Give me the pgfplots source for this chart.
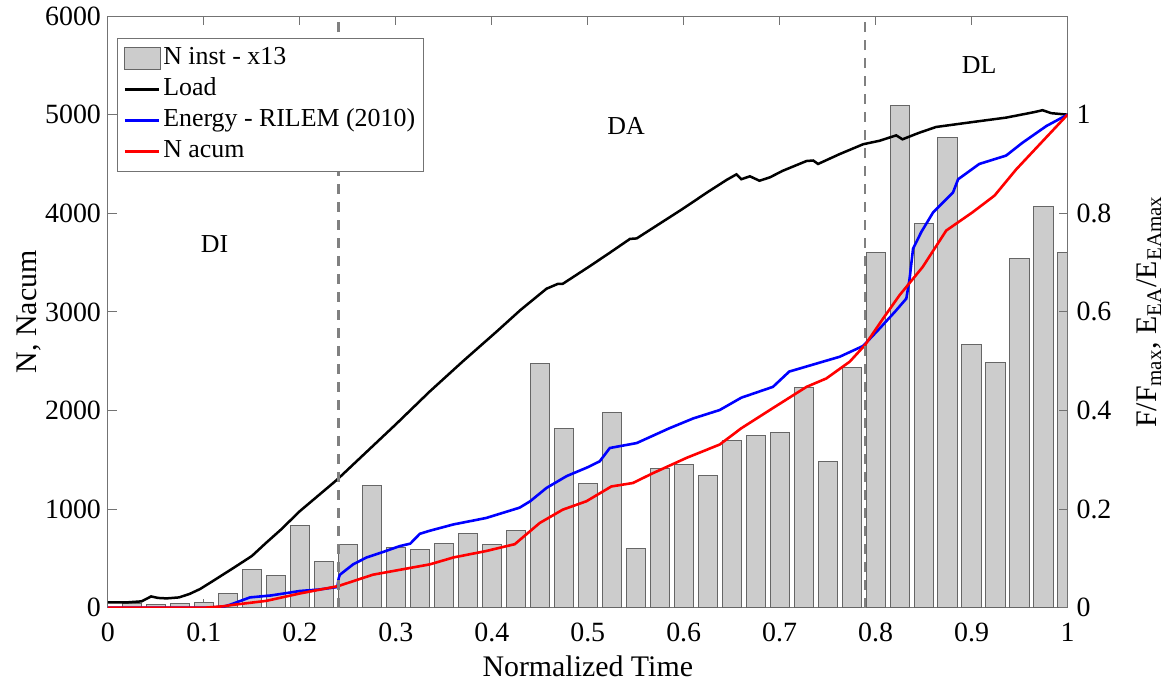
\documentclass[border=0pt]{standalone}
\usepackage{fontspec}
\setmainfont{Liberation Serif}
\usepackage{pgfplots}
\usepackage{pgfplotstable}
\pgfplotsset{compat=1.18}

\pgfplotstableread{
x y
0.025 45
0.050 35
0.075 45
0.100 55
0.125 145
0.150 392
0.175 324
0.200 831
0.225 470
0.250 645
0.275 1236
0.300 611
0.325 595
0.350 652
0.375 753
0.400 638
0.425 780
0.450 2480
0.475 1821
0.500 1264
0.525 1976
0.550 598
0.575 1416
0.600 1456
0.625 1341
0.650 1692
0.675 1745
0.700 1780
0.725 2230
0.750 1480
0.775 2440
0.800 3600
0.825 5090
0.850 3895
0.875 4765
0.900 2670
0.925 2490
0.950 3540
0.975 4070
1.000 3600
}\ninst

\pgfplotstableread{
x y
0 0.011
0.02 0.011
0.035 0.013
0.045 0.023
0.052 0.020
0.061 0.019
0.074 0.021
0.085 0.028
0.096 0.038
0.110 0.055
0.131 0.081
0.150 0.105
0.165 0.132
0.180 0.158
0.200 0.196
0.2347 0.253
0.240 0.262
0.270 0.317
0.300 0.372
0.335 0.438
0.370 0.500
0.405 0.560
0.430 0.604
0.457 0.647
0.469 0.657
0.474 0.657
0.500 0.690
0.520 0.716
0.544 0.748
0.551 0.749
0.575 0.779
0.599 0.809
0.625 0.843
0.645 0.868
0.655 0.879
0.660 0.869
0.669 0.875
0.679 0.866
0.690 0.873
0.703 0.886
0.728 0.906
0.735 0.907
0.740 0.900
0.7625 0.920
0.787 0.940
0.804 0.947
0.8215 0.958
0.828 0.950
0.845 0.963
0.863 0.975
0.901 0.985
0.936 0.994
0.965 1.005
0.974 1.009
0.983 1.003
1.000 1.000
}\load

\pgfplotstableread{
x y
0 0
0.100 0
0.120 0.002
0.127 0.006
0.148 0.021
0.170 0.025
0.200 0.034
0.220 0.037
0.239 0.042
0.2405 0.060
0.2417 0.067
0.2555 0.088
0.2694 0.102
0.285 0.112
0.304 0.125
0.315 0.130
0.325 0.150
0.335 0.156
0.360 0.169
0.394 0.182
0.429 0.203
0.440 0.216
0.457 0.243
0.478 0.267
0.500 0.285
0.5125 0.297
0.523 0.324
0.551 0.334
0.585 0.364
0.610 0.384
0.6375 0.401
0.660 0.426
0.693 0.448
0.710 0.479
0.745 0.499
0.7625 0.509
0.787 0.531
0.804 0.566
0.820 0.600
0.832 0.627
0.8354 0.667
0.839 0.728
0.8476 0.762
0.860 0.802
0.8806 0.842
0.886 0.869
0.908 0.900
0.936 0.917
0.953 0.943
0.978 0.977
1.000 1.000
}\energy

\pgfplotstableread{
x y
0 0
0.100 0
0.120 0.003
0.1306 0.006
0.165 0.014
0.200 0.029
0.240 0.044
0.276 0.067
0.3354 0.088
0.360 0.102
0.394 0.115
0.424 0.129
0.450 0.172
0.474 0.199
0.4986 0.216
0.5246 0.246
0.547 0.253
0.568 0.273
0.603 0.304
0.6375 0.331
0.660 0.364
0.693 0.405
0.728 0.448
0.7486 0.465
0.773 0.499
0.789 0.533
0.8076 0.586
0.825 0.634
0.849 0.691
0.8736 0.765
0.901 0.802
0.924 0.836
0.9465 0.889
1.000 1.000
}\nacum

\begin{document}
\begin{tikzpicture}
\pgfplotsset{
  common/.style={
    scale only axis, width=480bp, height=296bp,
    xmin=0, xmax=1,
    tick align=inside,
    major tick length=4.5bp,
    axis line style={black!55, line width=0.5bp},
    every tick/.style={black!55, line width=0.5bp},
    tick label style={font=\fontsize{14}{16}\selectfont},
    label style={font=\fontsize{15}{18}\selectfont},
    /pgf/number format/assume math mode=true,
    scaled ticks=false,
  }
}
\begin{axis}[common,
  ymin=0, ymax=6000,
  xtick={0,0.1,0.2,0.3,0.4,0.5,0.6,0.7,0.8,0.9,1},
  xticklabels={0,0.1,0.2,0.3,0.4,0.5,0.6,0.7,0.8,0.9,1},
  ytick={0,1000,2000,3000,4000,5000,6000},
  yticklabels={0,1000,2000,3000,4000,5000,6000},
  xtick pos=both, ytick pos=left,
  xticklabel style={yshift=-4bp},
  ylabel style={yshift=-5bp},
  xlabel={Normalized Time}, ylabel={N, Nacum},
]
\addplot[ybar, bar width=0.02, fill=black!20, draw=black!60, line width=0.5bp] table[x=x,y=y] {\ninst};
\coordinate (sw) at (rel axis cs:0,0);
\coordinate (ne) at (rel axis cs:1,1);
\end{axis}
\begin{axis}[common,
  ymin=0, ymax=1.2,
  axis y line*=right, axis x line=none,
  ytick={0,0.2,0.4,0.6,0.8,1},
  yticklabels={0,0.2,0.4,0.6,0.8,1},
  yticklabel style={xshift=1bp},
  ylabel style={yshift=-6bp},
  ylabel={F/F\textsubscript{max}, E\textsubscript{EA}/E\textsubscript{EAmax}},
  legend cell align=left,
  legend style={at={(0.0094,0.963)}, anchor=north west, draw=black!55, line width=0.5bp,
    font=\fontsize{13}{15}\selectfont, row sep=1.5bp,
    nodes={inner sep=1bp, text height=9bp, text depth=3bp},
    inner xsep=3bp, inner ysep=3bp},
]
\addlegendimage{legend image code/.code={\draw[fill=black!20, draw=black!60, line width=0.5bp] (0bp,-5.5bp) rectangle (18bp,5.5bp);}}
\addlegendentry{N inst - x13}
\addplot[black, line width=1.25bp] table[x=x,y=y] {\load};
\addlegendentry{Load}
\addplot[blue, line width=1.3bp] table[x=x,y=y] {\energy};
\addlegendentry{Energy - RILEM (2010)}
\addplot[red, line width=1.3bp] table[x=x,y=y] {\nacum};
\addlegendentry{N acum}
\addplot[black!50, line width=1.25bp, dash pattern=on 5bp off 4bp, forget plot] coordinates {(0.24,0) (0.24,1.2)};
\addplot[black!50, line width=1.25bp, dash pattern=on 5bp off 4bp, forget plot] coordinates {(0.789,0) (0.789,1.2)};
\node[font=\fontsize{13}{15}\selectfont] at (axis cs:0.111,0.737) {DI};
\node[font=\fontsize{13}{15}\selectfont] at (axis cs:0.540,0.978) {DA};
\node[font=\fontsize{13}{15}\selectfont] at (axis cs:0.908,1.101) {DL};
\end{axis}
\path ([shift={(-54bp,-39.5bp)}]sw) rectangle ([shift={(50bp,7.5bp)}]ne);
\end{tikzpicture}
\end{document}
